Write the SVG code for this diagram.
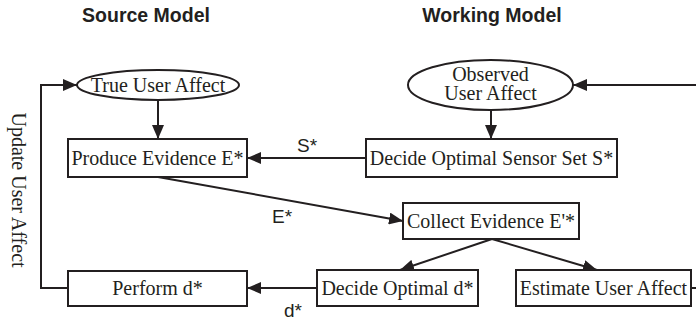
<svg xmlns="http://www.w3.org/2000/svg" width="696" height="320" viewBox="0 0 696 320">
<defs>
<marker id="ah" markerUnits="userSpaceOnUse" markerWidth="14" markerHeight="12" refX="14" refY="6" orient="auto">
<path d="M0,0 L14,6 L0,12 z" fill="#231f20"/>
</marker>
<style>
.box{fill:#fff;stroke:#231f20;stroke-width:2}
.t{font-family:"Liberation Serif","Times New Roman",serif;font-size:20px;fill:#231f20;text-anchor:middle}
.h{font-family:"Liberation Sans",Arial,sans-serif;font-size:19.5px;font-weight:bold;fill:#231f20;text-anchor:middle}
.l{font-family:"Liberation Sans",Arial,sans-serif;font-size:19px;fill:#231f20;text-anchor:middle}
.c{fill:none;stroke:#231f20;stroke-width:2}
</style>
</defs>
<rect width="696" height="320" fill="#fff"/>
<text class="h" x="146" y="22">Source Model</text>
<text class="h" x="492" y="22">Working Model</text>
<g id="connectors">
<path class="c" d="M68,288 H41 V85 H77" marker-end="url(#ah)"/>
<path class="c" d="M158,100 V139" marker-end="url(#ah)"/>
<path class="c" d="M491,110 V139" marker-end="url(#ah)"/>
<path class="c" d="M691,288 H698 V85 H573" marker-end="url(#ah)"/>
<path class="c" d="M366,158 H247" marker-end="url(#ah)"/>
<path class="c" d="M158,177 L403,221" marker-end="url(#ah)"/>
<path class="c" d="M492,239 L400,270" marker-end="url(#ah)"/>
<path class="c" d="M492,239 L597,270" marker-end="url(#ah)"/>
<path class="c" d="M317,288 H247" marker-end="url(#ah)"/>
<text class="l" x="307" y="152">S*</text>
<text class="l" x="282" y="223">E*</text>
<text class="l" x="293" y="317">d*</text>
<text class="t" transform="translate(12,190) rotate(90)">Update User Affect</text>
</g>
<g id="true-user-affect">
<ellipse class="box" cx="158" cy="85" rx="81" ry="15"/>
<text class="t" x="158" y="91.5">True User Affect</text>
</g>
<g id="observed-user-affect">
<ellipse class="box" cx="490.5" cy="85" rx="82.5" ry="25"/>
<text class="t" x="490.5" y="81">Observed</text>
<text class="t" x="490.5" y="100">User Affect</text>
</g>
<g id="produce-evidence">
<rect class="box" x="68" y="139" width="179" height="38"/>
<text class="t" x="157.5" y="164.5">Produce Evidence E*</text>
</g>
<g id="decide-sensor-set">
<rect class="box" x="366" y="139" width="251" height="38"/>
<text class="t" x="491.5" y="164.5">Decide Optimal Sensor Set S*</text>
</g>
<g id="collect-evidence">
<rect class="box" x="403" y="203" width="176" height="36"/>
<text class="t" x="491" y="227.5">Collect Evidence E'*</text>
</g>
<g id="perform-d">
<rect class="box" x="68" y="271" width="179" height="35"/>
<text class="t" x="157.5" y="295">Perform d*</text>
</g>
<g id="decide-d">
<rect class="box" x="317" y="270" width="161" height="36"/>
<text class="t" x="397.5" y="294.5">Decide Optimal d*</text>
</g>
<g id="estimate-user-affect">
<rect class="box" x="516" y="270" width="175" height="36"/>
<text class="t" x="603.5" y="294.5">Estimate User Affect</text>
</g>
</svg>
